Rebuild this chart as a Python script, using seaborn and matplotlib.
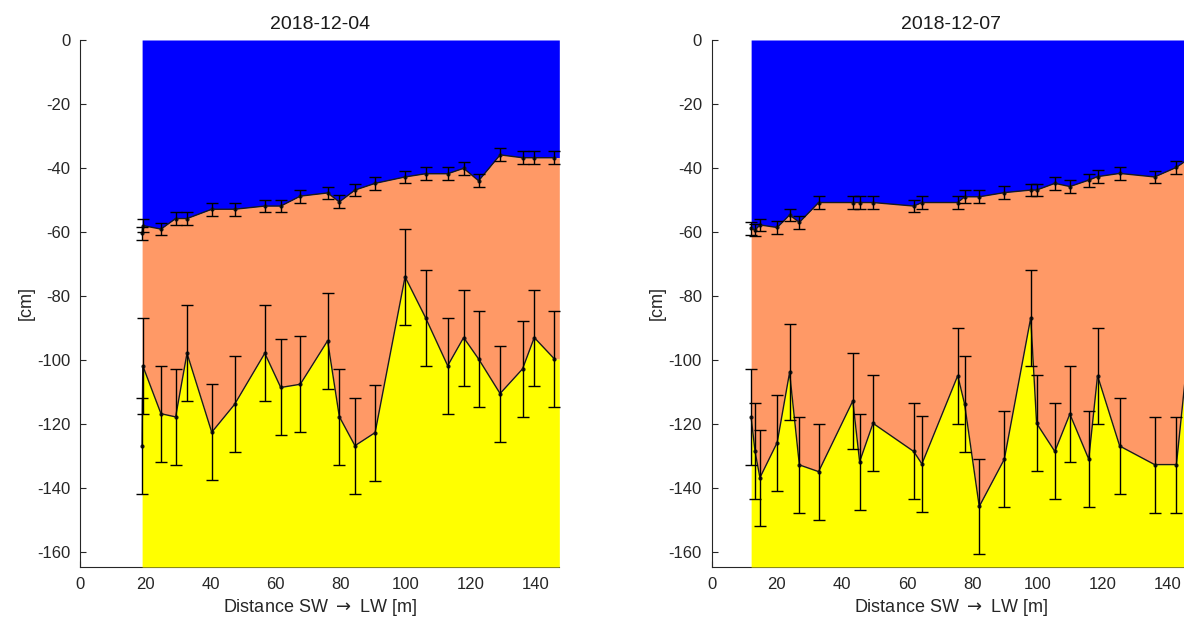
import numpy as np
import matplotlib
matplotlib.use("Agg")
import matplotlib.pyplot as plt
import seaborn as sns

# ---------------- data ----------------
dates = ["2018-12-04", "2018-12-07"]

x_left = [19.0, 19.2, 24.8, 29.3, 32.8, 40.4, 47.4, 56.7, 61.6, 67.6, 76.0, 79.6,
          84.4, 90.6, 99.8, 106.1, 112.9, 117.8, 122.4, 129.0, 135.9, 139.5, 145.7]
snow_left = [-60.4, -58.0, -59.1, -55.8, -55.8, -52.9, -52.9, -51.9, -51.9, -48.8, -47.8, -50.6,
             -46.9, -44.8, -42.8, -41.8, -41.8, -40.1, -44.0, -35.9, -36.8, -36.8, -36.8]
ice_left = [-126.9, -101.8, -116.8, -117.8, -97.9, -122.6, -113.9, -97.9, -108.6, -107.6, -94.0, -117.7,
            -126.8, -122.7, -74.0, -86.8, -101.8, -93.0, -99.7, -110.5, -102.8, -93.0, -99.7]

x_right = [12.1, 13.3, 14.8, 20.1, 23.9, 26.9, 32.8, 43.3, 45.4, 49.5, 62.0, 64.5, 75.5,
           77.6, 82.1, 89.8, 97.9, 99.7, 105.3, 109.9, 115.7, 118.4, 125.2, 135.9, 142.6, 147.0]
snow_right = [-58.9, -59.4, -57.8, -58.6, -54.7, -57.0, -50.8, -50.8, -50.8, -50.8, -51.9, -50.8, -50.8,
              -49.0, -49.0, -47.7, -46.9, -46.9, -44.8, -45.8, -43.8, -42.7, -41.7, -42.8, -39.8, -36.7]
ice_right = [-117.9, -128.6, -136.8, -125.8, -103.9, -132.8, -134.9, -112.8, -131.8, -119.8, -128.6, -132.5, -104.9,
             -113.75, -145.8, -131.0, -86.8, -119.8, -128.6, -116.9, -131.0, -104.9, -126.9, -132.7, -132.7, -89.0]

snow_err = 2.0
ice_err = 15.0
x_max = [147.2, 147.0]
y_min = -164.7
y_ticks = list(range(-160, 1, 20))
x_ticks = list(range(0, 141, 20))

# ---------------- style ----------------
sns.set_theme(style="white")
plt.rcParams["font.family"] = ["Liberation Sans", "DejaVu Sans"]
plt.rcParams["axes.unicode_minus"] = False
plt.rcParams["mathtext.fontset"] = "dejavusans"

BLUE = "#0000FF"
SALMON = "#FF9966"
YELLOW = "#FFFF00"
AXC = "#262626"
LINEC = "#1a1a1a"
ERRC = "#000000"

fig = plt.figure(figsize=(11.84, 6.21), dpi=100)
positions = [[0.0678, 0.087, 0.4046, 0.8486], [0.6011, 0.087, 0.4046, 0.8486]]
panels = [(x_left, snow_left, ice_left), (x_right, snow_right, ice_right)]

for i, (xs, snow, ice) in enumerate(panels):
    ax = fig.add_axes(positions[i])
    xs = np.asarray(xs, float)
    snow = np.asarray(snow, float)
    ice = np.asarray(ice, float)
    xf = np.append(xs, x_max[i])
    sf = np.append(snow, snow[-1])
    inf = np.append(ice, ice[-1])

    ax.fill_between(xf, sf, 0, color=BLUE, lw=0, zorder=3)
    ax.fill_between(xf, inf, sf, color=SALMON, lw=0, zorder=3)
    ax.fill_between(xf, y_min, inf, color=YELLOW, lw=0, zorder=3)

    for yv, err in ((snow, snow_err), (ice, ice_err)):
        sns.lineplot(x=xs, y=yv, sort=False, estimator=None, ax=ax, color=LINEC,
                     lw=1.0, marker="o", markersize=3, markeredgewidth=0, zorder=5)
        ax.errorbar(xs, yv, yerr=err, fmt="none", ecolor=ERRC, elinewidth=1.0,
                    capsize=4.2, capthick=1.0, zorder=6, clip_on=False)

    ax.set_xlim(0, x_max[i])
    ax.set_ylim(y_min, 0)
    ax.set_xticks(x_ticks)
    ax.set_yticks(y_ticks)
    ax.set_axisbelow(True)
    for s in ("top", "right"):
        ax.spines[s].set_visible(False)
    for s in ("left", "bottom"):
        ax.spines[s].set_color(AXC)
        ax.spines[s].set_linewidth(0.8)
        ax.spines[s].set_zorder(2)
    ax.tick_params(direction="in", length=4, width=0.8, colors=AXC,
                   labelsize=12, pad=7, left=True, bottom=True)
    ax.set_title(dates[i], fontsize=14, color="#1a1a1a", pad=8)
    ax.set_ylabel("[cm]", fontsize=13, color=AXC, labelpad=2)
    ax.set_xlabel(r"Distance SW $\rightarrow$ LW [m]", fontsize=13, color=AXC, labelpad=4)
    ax.grid(False)

fig.savefig("out.png", dpi=100)
